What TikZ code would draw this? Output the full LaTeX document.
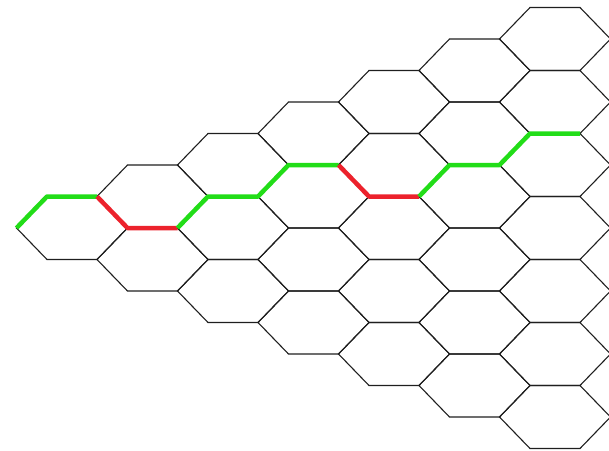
\documentclass[tikz,border=0pt]{standalone}
\begin{document}
\begin{tikzpicture}[x=1pt,y=-1pt,
  gridline/.style={draw=black!88,line width=1.1pt,line join=miter},
  pathbase/.style={line width=4.5pt,line join=round,line cap=butt},
  goodpath/.style={pathbase,draw={rgb,255:red,34;green,221;blue,24}},
  badpath/.style={pathbase,draw={rgb,255:red,236;green,34;blue,44}}]
\useasboundingbox (0,0) rectangle (609,450);
\clip (0,0) rectangle (609,450);
% triangular block of flat-topped hexagons: column c holds c+1 cells
\foreach \c in {0,...,6} {
  \foreach \r in {0,...,\c} {
    \pgfmathsetmacro\cx{72+80.5*\c}
    \pgfmathsetmacro\cy{228-31.5*\c+63*\r}
    \coordinate (v-\c-\r-L)  at (\cx-55.5,\cy);
    \coordinate (v-\c-\r-TL) at (\cx-25,\cy-31.5);
    \coordinate (v-\c-\r-TR) at (\cx+25,\cy-31.5);
    \coordinate (v-\c-\r-R)  at (\cx+55.5,\cy);
    \coordinate (v-\c-\r-BR) at (\cx+25,\cy+31.5);
    \coordinate (v-\c-\r-BL) at (\cx-25,\cy+31.5);
    \draw[gridline] (v-\c-\r-L) -- (v-\c-\r-TL) -- (v-\c-\r-TR) -- (v-\c-\r-R)
      -- (v-\c-\r-BR) -- (v-\c-\r-BL) -- cycle;
  }
}
% highlighted route across the grid
\draw[goodpath] (v-0-0-L) -- (v-0-0-TL) -- (v-0-0-TR);
\draw[badpath]  (v-0-0-TR) -- (v-0-0-R) -- (v-1-0-BR);
\draw[goodpath] (v-1-0-BR) -- (v-2-1-TL) -- (v-2-1-TR) -- (v-3-1-TL) -- (v-3-1-TR);
\draw[badpath]  (v-3-1-TR) -- (v-3-1-R) -- (v-4-1-BR);
\draw[goodpath] (v-4-1-BR) -- (v-5-2-TL) -- (v-5-2-TR) -- (v-6-2-TL) -- (v-6-2-TR);
\end{tikzpicture}
\end{document}
